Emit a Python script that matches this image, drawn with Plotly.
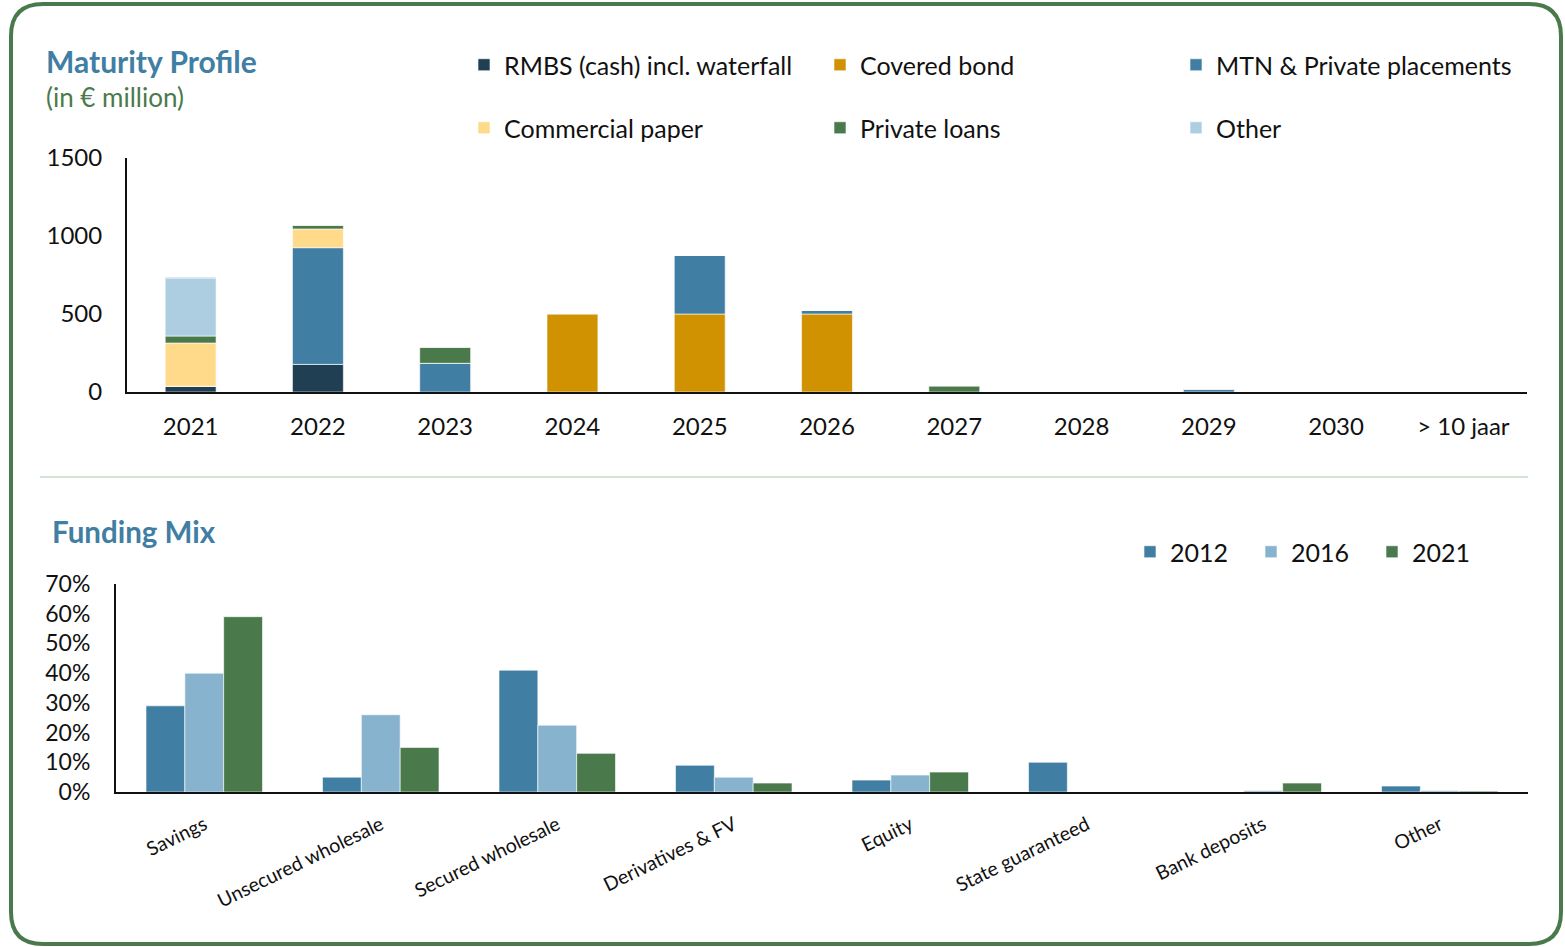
import plotly.graph_objects as go

# ---- Maturity profile (in EUR million) ----
years = ["2021", "2022", "2023", "2024", "2025", "2026", "2027", "2028", "2029", "2030", "> 10 jaar"]
rmbs = [37, 177, 0, 0, 0, 0, 0, 0, 0, 0, 0]
covered_bond = [0, 0, 0, 500, 500, 500, 0, 0, 0, 0, 0]
mtn_pp = [0, 748, 184, 6, 376, 25, 0, 0, 20, 0, 0]
commercial_paper = [277, 120, 0, 0, 0, 0, 0, 0, 0, 0, 0]
private_loans = [45, 25, 104, 0, 0, 0, 40, 0, 0, 0, 0]
other_mat = [370, 0, 0, 0, 0, 0, 0, 0, 0, 0, 0]
mtn_pp_top = [5, 0, 0, 0, 0, 0, 0, 0, 0, 0, 0]

# ---- Funding mix (share of total) ----
mix_categories = ["Savings", "Unsecured wholesale", "Secured wholesale", "Derivatives & FV",
                  "Equity", "State guaranteed", "Bank deposits", "Other"]
mix_2012 = [0.29, 0.05, 0.41, 0.09, 0.04, 0.10, 0.0, 0.02]
mix_2016 = [0.40, 0.26, 0.225, 0.05, 0.057, 0.0, 0.005, 0.005]
mix_2021 = [0.59, 0.15, 0.13, 0.03, 0.067, 0.0, 0.03, 0.003]

C_DARK = "#213f52"
C_GOLD = "#d09200"
C_BLUE = "#417ea3"
C_SAND = "#ffda8a"
C_GREEN = "#4a7a4b"
C_PALE = "#adcde0"
C_LIGHT = "#88b3cf"
EDGE = dict(color="rgba(255,255,255,0.6)", width=1)

W, H = 1565, 947
FONT = "Lato"


def px(x):
    return x / W


def py(y):
    return 1 - y / H


fig = go.Figure()

stack = [
    ("RMBS (cash) incl. waterfall", rmbs, C_DARK, "legend", True),
    ("Covered bond", covered_bond, C_GOLD, "legend", True),
    ("MTN & Private placements", mtn_pp, C_BLUE, "legend", True),
    ("Commercial paper", commercial_paper, C_SAND, "legend2", True),
    ("Private loans", private_loans, C_GREEN, "legend2", True),
    ("Other", other_mat, C_PALE, "legend2", True),
    ("MTN & Private placements", mtn_pp_top, C_BLUE, "legend", False),
]
for name, vals, col, leg, show in stack:
    fig.add_trace(go.Bar(x=years, y=vals, name=name, marker=dict(color=col, line=EDGE),
                         xaxis="x", yaxis="y", legend=leg, showlegend=show, offsetgroup="stack"))

# grouped bars of the funding mix, placed side by side around each category
group_w = 0.22
for i, (name, vals, col) in enumerate([("2012", mix_2012, C_BLUE), ("2016", mix_2016, C_LIGHT),
                                        ("2021", mix_2021, C_GREEN)]):
    fig.add_trace(go.Bar(x=mix_categories, y=vals, name=name, marker=dict(color=col, line=EDGE),
                         xaxis="x2", yaxis="y2", legend="legend3", offsetgroup="mix" + name,
                         width=group_w, offset=(i - 1.5) * group_w))

leg_font = dict(family=FONT, size=25, color="#111")


def legend_at(x, y, entry_w):
    return dict(orientation="h", x=px(x), y=py(y), xref="container", yref="container",
                xanchor="left", yanchor="middle", entrywidth=entry_w, entrywidthmode="pixels",
                font=leg_font, bgcolor="rgba(0,0,0,0)", traceorder="normal")


fig.update_layout(
    width=W, height=H,
    margin=dict(l=0, r=0, t=0, b=0, autoexpand=False),
    paper_bgcolor="white", plot_bgcolor="white",
    font=dict(family=FONT, color="#111"),
    barmode="relative",
    bargap=0.6,
    xaxis=dict(domain=[px(127), px(1527)], anchor="y", showline=True, linecolor="#111", linewidth=2,
               showgrid=False, ticks="", tickfont=dict(family=FONT, size=24, color="#111"),
               ticklabelstandoff=12, automargin=False),
    yaxis=dict(domain=[py(392), py(158)], anchor="x", range=[0, 1500], tickvals=[0, 500, 1000, 1500],
               showline=True, linecolor="#111", linewidth=2, showgrid=False, zeroline=False,
               ticks="", tickfont=dict(family=FONT, size=24, color="#111"),
               ticklabelstandoff=18, automargin=False),
    xaxis2=dict(domain=[px(116), px(1528)], anchor="y2", showline=True, linecolor="#111", linewidth=2,
                showgrid=False, ticks="", tickangle=-26, tickfont=dict(family=FONT, size=19.5, color="#111"),
                ticklabelstandoff=12, automargin=False),
    yaxis2=dict(domain=[py(792), py(584)], anchor="x2", range=[0, 0.7], dtick=0.1, tickformat=".0%",
                showline=True, linecolor="#111", linewidth=2, showgrid=False, zeroline=False,
                ticks="", tickfont=dict(family=FONT, size=23, color="#111"),
                ticklabelstandoff=19, automargin=False),
    legend=legend_at(464, 65, 311),
    legend2=legend_at(464, 128, 311),
    legend3=legend_at(1130, 552, 76),
)


def rounded_frame(x0, y0, x1, y1, r):
    """Rounded rectangle path in paper coordinates from pixel corners."""
    def p(x, y):
        return f"{px(x):.5f},{py(y):.5f}"
    return (f"M {p(x0 + r, y0)} L {p(x1 - r, y0)} Q {p(x1, y0)} {p(x1, y0 + r)} "
            f"L {p(x1, y1 - r)} Q {p(x1, y1)} {p(x1 - r, y1)} L {p(x0 + r, y1)} "
            f"Q {p(x0, y1)} {p(x0, y1 - r)} L {p(x0, y0 + r)} Q {p(x0, y0)} {p(x0 + r, y0)} Z")


fig.add_shape(type="path", xref="paper", yref="paper", path=rounded_frame(11, 4, 1561, 944, 32),
              line=dict(color="#4a7a4b", width=4))
fig.add_shape(type="line", xref="paper", yref="paper", x0=px(40), x1=px(1528), y0=py(477), y1=py(477),
              line=dict(color="#a9c9a9", width=1))

fig.add_annotation(text="<b>Maturity Profile</b>", xref="paper", yref="paper", x=px(44), y=py(61),
                   xanchor="left", yanchor="middle", showarrow=False,
                   font=dict(family=FONT, size=30, color=C_BLUE))
fig.add_annotation(text="(in € million)", xref="paper", yref="paper", x=px(44), y=py(97),
                   xanchor="left", yanchor="middle", showarrow=False,
                   font=dict(family=FONT, size=26, color=C_GREEN))
fig.add_annotation(text="<b>Funding Mix</b>", xref="paper", yref="paper", x=px(50), y=py(531),
                   xanchor="left", yanchor="middle", showarrow=False,
                   font=dict(family=FONT, size=29.5, color=C_BLUE))

fig.write_html("out.html")
